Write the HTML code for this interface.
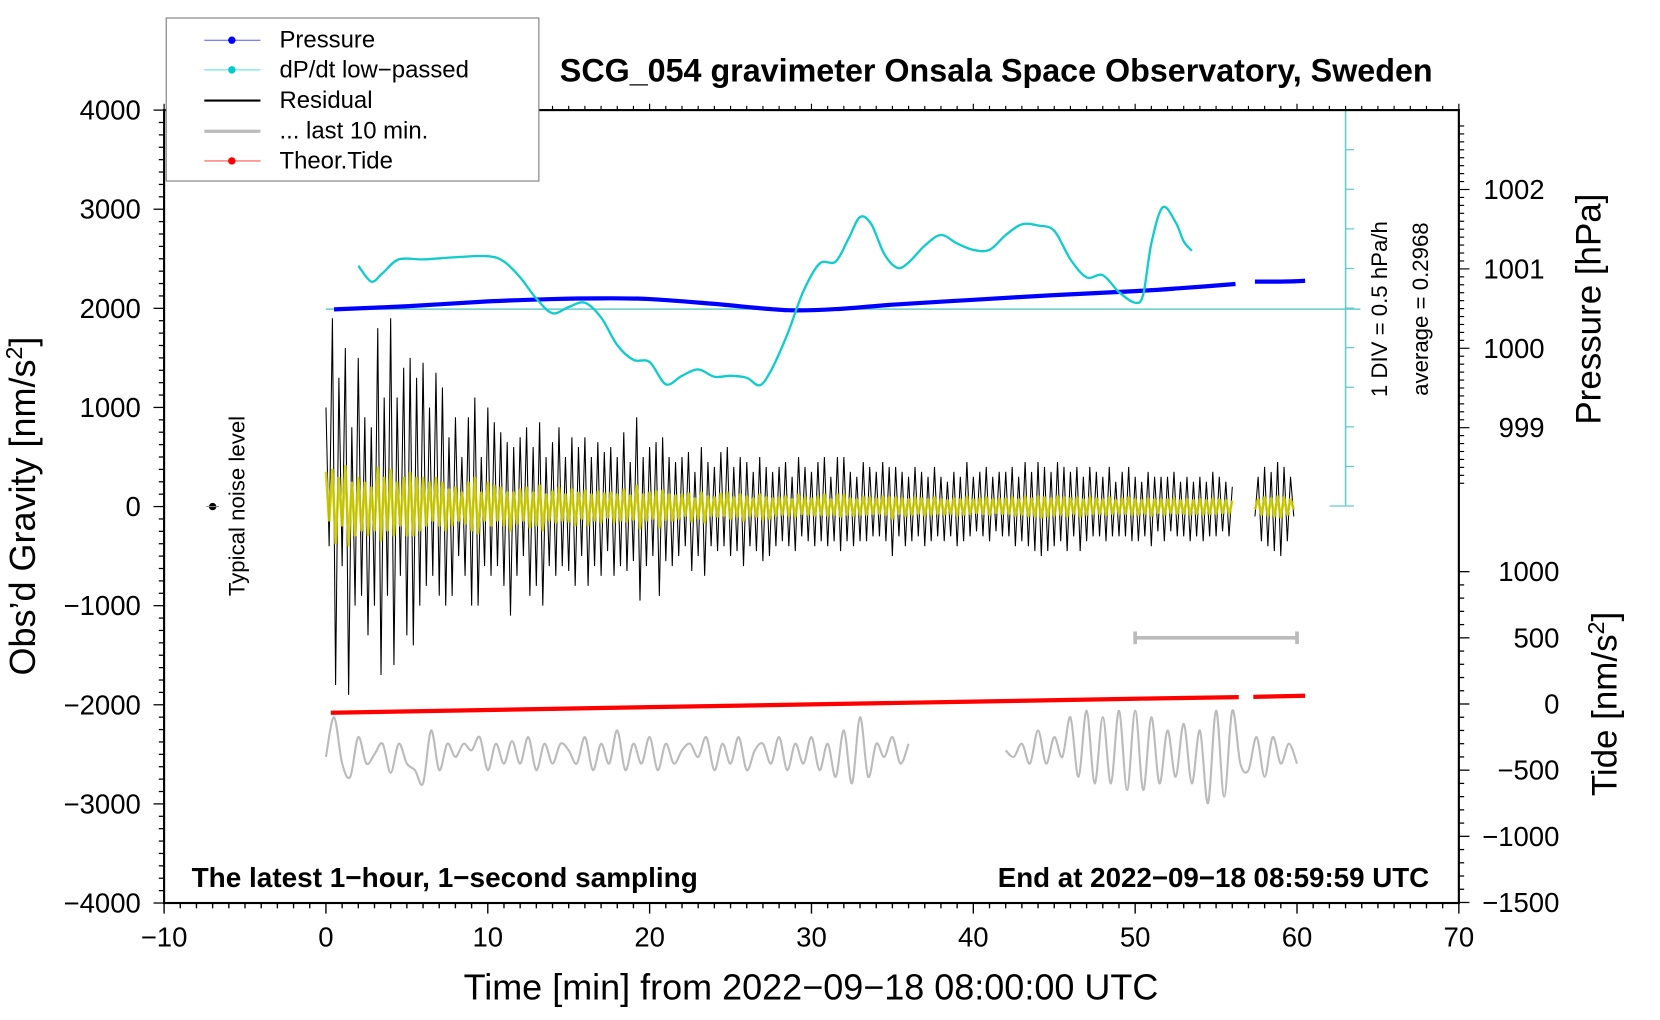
<!DOCTYPE html>
<html><head><meta charset="utf-8"><style>
html,body{margin:0;padding:0;background:#fff;}
svg{display:block;font-family:"Liberation Sans",Arial,sans-serif;}
</style></head><body>
<svg id="chart" width="1660" height="1020" viewBox="0 0 1568 963.5" preserveAspectRatio="none" xmlns="http://www.w3.org/2000/svg">
<rect x="0" y="0" width="1568" height="963.5" fill="#fff"/>
<g id="marks"></g>
<g id="axes"></g>
<text x="941" y="77" font-size="30.5" font-weight="bold" text-anchor="middle">SCG_054 gravimeter Onsala Space Observatory, Sweden</text>
<text x="766" y="944" font-size="34" text-anchor="middle">Time [min] from 2022−09−18 08:00:00 UTC</text>
<text transform="translate(33,478) rotate(-90)" font-size="34" text-anchor="middle">Obs’d Gravity [nm/s<tspan dy="-12" font-size="22">2</tspan><tspan dy="12">]</tspan></text>
<text transform="translate(1512,292) rotate(-90)" font-size="33" text-anchor="middle">Pressure [hPa]</text>
<text transform="translate(1527,665) rotate(-90)" font-size="33" text-anchor="middle">Tide [nm/s<tspan dy="-12" font-size="22">2</tspan><tspan dy="12">]</tspan></text>
<text transform="translate(231,478) rotate(-90)" font-size="21" text-anchor="middle">Typical noise level</text>
<text transform="translate(1310,292) rotate(-90)" font-size="21" text-anchor="middle">1 DIV = 0.5 hPa/h</text>
<text transform="translate(1349,292) rotate(-90)" font-size="21" text-anchor="middle">average = 0.2968</text>
<text x="181" y="838" font-size="26.4" font-weight="bold">The latest 1−hour, 1−second sampling</text>
<text x="1350" y="838" font-size="26.2" font-weight="bold" text-anchor="end">End at 2022−09−18 08:59:59 UTC</text>
<g>
<rect x="157" y="17" width="352" height="154" fill="#fff" stroke="#777" stroke-width="1"/>
<g><line x1="193" y1="38" x2="246" y2="38" stroke="#55f" stroke-width="1"/><circle cx="219" cy="38" r="3.5" fill="#00f"/><text x="264" y="45" font-size="22.6">Pressure</text></g>
<g><line x1="193" y1="66" x2="246" y2="66" stroke="#5dd" stroke-width="1"/><circle cx="219" cy="66" r="3.5" fill="#0cc"/><text x="264" y="73" font-size="22.6">dP/dt low−passed</text></g>
<g><line x1="193" y1="95" x2="246" y2="95" stroke="#000" stroke-width="2"/><text x="264" y="102" font-size="22.6">Residual</text></g>
<g><line x1="193" y1="124" x2="246" y2="124" stroke="#bbb" stroke-width="3"/><text x="264" y="131" font-size="22.6">... last 10 min.</text></g>
<g><line x1="193" y1="152" x2="246" y2="152" stroke="#f55" stroke-width="1"/><circle cx="219" cy="152" r="3.5" fill="#f00"/><text x="264" y="159" font-size="22.6">Theor.Tide</text></g>
</g>
</svg>
<script>
// ---- data ----
const residualStep = 0.2;
const residual = [
1000,-400,1900,-1800,1300,-600,1600,-1900,800,-1000,
1500,-900,900,-1300,800,-1000,1800,-1700,1100,-900,
1900,-1600,1100,-700,1400,-1300,1500,-1400,1300,-1000,
1450,-800,1000,-700,1350,-900,1200,-1000,700,-900,
900,-500,500,-700,900,-1000,1100,-1000,500,-600,
1000,-700,850,-600,750,-800,650,-1100,600,-700,
700,-500,800,-900,600,-800,850,-1000,500,-600,
650,-700,800,-600,500,-650,700,-800,600,-500,
700,-800,500,-600,650,-700,550,-450,600,-700,
500,-600,750,-650,450,-550,900,-950,500,-600,
600,-500,650,-900,700,-550,500,-600,450,-500,
500,-400,550,-650,350,-500,600,-700,450,-400,
400,-450,550,-400,600,-500,400,-450,500,-600,
450,-400,350,-450,500,-550,400,-500,350,-400,
400,-350,450,-400,300,-450,500,-300,400,-350,
350,-400,450,-350,500,-400,300,-350,500,-450,
500,-350,350,-400,300,-350,450,-350,400,-300,
350,-300,450,-350,400,-500,400,-300,350,-400,
300,-350,400,-300,350,-400,300,-350,400,-300,
300,-350,250,-300,350,-400,300,-350,450,-300,
300,-250,350,-300,400,-350,300,-250,350,-300,
350,-300,400,-400,300,-350,450,-400,350,-450,
450,-500,400,-450,350,-400,450,-350,400,-450,
350,-300,400,-450,300,-350,400,-300,350,-300,
300,-350,400,-300,250,-300,350,-300,400,-350,
300,-350,250,-300,350,-400,300,-250,300,-350,
300,-250,350,-300,250,-300,300,-350,250,-300,
300,-350,250,-300,350,-300,300,-250,250,-300,
200,null,null,null,null,null,null,-100,300,-350,
400,-400,350,-450,450,-500,400,-350,300,-100];
const filtered = [
350,-150,380,-380,300,-200,420,-400,250,-300,
300,-250,250,-300,200,-250,400,-350,300,-250,
380,-300,250,-200,300,-300,350,-300,300,-250,
300,-200,250,-150,300,-200,250,-250,180,-200,
200,-150,150,-180,250,-250,300,-280,150,-150,
250,-200,220,-150,200,-200,150,-250,150,-180,
180,-150,200,-220,150,-200,220,-250,130,-150,
160,-170,200,-150,130,-160,180,-200,150,-130,
170,-200,130,-150,160,-170,140,-120,150,-170,
130,-150,180,-160,120,-140,220,-230,130,-150,
150,-130,160,-220,170,-140,130,-150,120,-130,
130,-100,140,-160,90,-130,150,-170,110,-100,
100,-110,140,-100,150,-130,100,-110,130,-150,
110,-100,90,-110,130,-140,100,-130,90,-100,
100,-90,110,-100,80,-110,130,-80,100,-90,
90,-100,110,-90,130,-100,80,-90,130,-110,
130,-90,90,-100,80,-90,110,-90,100,-80,
90,-80,110,-90,100,-130,100,-80,90,-100,
80,-90,100,-80,90,-100,80,-90,100,-80,
80,-90,70,-80,90,-100,80,-90,110,-80,
80,-70,90,-80,100,-90,80,-70,90,-80,
90,-80,100,-100,80,-90,110,-100,90,-110,
110,-120,100,-110,90,-100,110,-90,100,-110,
90,-80,100,-110,80,-90,100,-80,90,-80,
80,-90,100,-80,70,-80,90,-80,100,-90,
80,-90,70,-80,90,-100,80,-70,80,-90,
80,-70,90,-80,70,-80,80,-90,70,-80,
80,-90,70,-80,90,-80,80,-70,70,-80,
60,null,null,null,null,null,null,-30,80,-90,
100,-100,90,-110,110,-120,100,-90,80,-30];
const lastStep = 0.5;
const last10 = [
-400,-100,-450,-550,-250,-450,-380,-300,-520,-300,-450,-500,-600,-200,-500,-300,-400,-300,-350,-250,
-500,-300,-450,-280,-450,-250,-500,-300,-450,-300,-350,-450,-250,-500,-300,-450,-200,-500,-300,-450,
-250,-500,-300,-450,-350,-300,-400,-250,-500,-300,-450,-250,-500,-350,-300,-450,-250,-500,-300,-450,
-250,-500,-300,-550,-200,-600,-100,-550,-300,-400,-250,-450,-300,
null,null,null,null,null,null,null,null,null,null,null,
-350,-400,-300,-450,-200,-450,-250,-400,-100,-550,-50,-600,-100,-600,-50,-650,-50,-650,-100,-600,
-200,-550,-150,-600,-200,-750,-50,-700,-50,-450,-500,-250,-550,-250,-450,-300,-450];
const tideTimes = [0.3, 10, 20, 30, 40, 50, 56.4, 57.3, 60.5];
const tideValues = [-66, -45, -24, -3, 18, 40, 52, 54, 62];
const pressTimes = [0.5, 5, 10, 14, 17, 20, 24, 28.5, 32, 35, 40, 45, 50, 53, 56.2, 57.4, 59, 60.5];
const pressValues = [1000.49, 1000.53, 1000.59, 1000.62, 1000.63, 1000.62, 1000.56, 1000.48, 1000.50, 1000.55, 1000.61, 1000.67, 1000.72, 1000.76, 1000.81, 1000.84, 1000.84, 1000.85];
const dpTimes = [2.0,2.8,3.5,4.5,6,8,10,11,12,13,14,15,16,17,18,19,20,21,22,23,24,25,26,26.8,27.5,28.5,29.5,30.5,31.5,32.3,33,33.7,34.5,35.3,36,37,38,39,40,41,42,43,44,45,46,47,48,49,50,50.5,51,51.7,52.5,53,53.5];
const dpValues = [0.845,0.645,0.752,0.925,0.925,0.952,0.965,0.898,0.698,0.431,0.244,0.324,0.377,0.190,-0.157,-0.344,-0.371,-0.652,-0.545,-0.465,-0.558,-0.545,-0.571,-0.665,-0.478,-0.024,0.524,0.872,0.899,1.193,1.460,1.367,0.992,0.818,0.885,1.099,1.233,1.126,1.046,1.046,1.233,1.367,1.353,1.286,0.925,0.698,0.725,0.511,0.377,0.484,1.126,1.581,1.393,1.153,1.033];
const xTicks = [-10,0,10,20,30,40,50,60,70];
const yTicks = [4000,3000,2000,1000,0,-1000,-2000,-3000,-4000];
const pTicks = [1002,1001,1000,999];
const tideTicks = [1000,500,0,-500,-1000,-1500];

// ---- scales ----
const X0=155, X1=1378, Y0=104, Y1=853;
const xs = t => X0 + (t+10)/80*(X1-X0);
const ys = v => Y1 - (v+4000)/8000*(Y1-Y0);
const ps = p => 329 - (p-1000)*75;
const ts = v => 665 - v*0.125;
const dps = v => 292 - (v-0.2968)*74.8;

const NS='http://www.w3.org/2000/svg';
const marks=document.getElementById('marks'), axes=document.getElementById('axes');
function mk(tag, attrs, parent){const e=document.createElementNS(NS,tag);for(const k in attrs)e.setAttribute(k,attrs[k]);(parent||marks).appendChild(e);return e;}
function pathFrom(arr, step, yf){let d='',pen=false;arr.forEach((v,i)=>{if(v===null){pen=false;return;}d+=(pen?'L':'M')+xs(i*step).toFixed(1)+' '+yf(v).toFixed(1);pen=true;});return d;}
function smoothPath(ts_, vs, yf){const pts=ts_.map((t,i)=>[xs(t),yf(vs[i])]);let d='M'+pts[0][0]+' '+pts[0][1];for(let i=0;i<pts.length-1;i++){const p0=pts[Math.max(0,i-1)],p1=pts[i],p2=pts[i+1],p3=pts[Math.min(pts.length-1,i+2)];const c1=[p1[0]+(p2[0]-p0[0])/6,p1[1]+(p2[1]-p0[1])/6],c2=[p2[0]-(p3[0]-p1[0])/6,p2[1]-(p3[1]-p1[1])/6];d+='C'+c1.map(n=>n.toFixed(1)).join(' ')+' '+c2.map(n=>n.toFixed(1)).join(' ')+' '+p2[0].toFixed(1)+' '+p2[1].toFixed(1);}return d;}
function smoothArr(arr, step, yf){let segs=[],cur=null;arr.forEach((v,i)=>{if(v===null){cur=null;return;}if(!cur){cur={t:[],v:[]};segs.push(cur);}cur.t.push(i*step);cur.v.push(v);});return segs.map(s=>smoothPath(s.t,s.v,yf)).join(' ');}

let e;
e=mk('line',{x1:xs(0),y1:292,x2:1285,y2:292,stroke:'#6cc',"stroke-width":1.5});


e=mk('line',{x1:1271,y1:Y0,x2:1271,y2:478,stroke:'#6cc',"stroke-width":1.5});


for(let i=0;i<=10;i++){const y=Y0+i*37.4;const t=mk('line',{x1:i===10?1256:1271,y1:y,x2:1279,y2:y,stroke:'#6cc',"stroke-width":1.2});

}

e=mk('path',{d:pathFrom(residual,residualStep,ys),fill:'none',stroke:'#000',"stroke-width":1});


e=mk('path',{d:pathFrom(filtered,residualStep,ys),fill:'none',stroke:'#cc0',"stroke-width":2.5,opacity:0.9});



e=mk('path',{d:smoothPath(pressTimes.slice(0,15),pressValues.slice(0,15),ps),fill:'none',stroke:'#00f',"stroke-width":4});


e=mk('path',{d:smoothPath(pressTimes.slice(15),pressValues.slice(15),ps),fill:'none',stroke:'#00f',"stroke-width":4});



e=mk('path',{d:smoothPath(dpTimes,dpValues,dps),fill:'none',stroke:'#1cc',"stroke-width":2.2});



e=mk('path',{d:'M'+xs(tideTimes[0])+' '+ts(tideValues[0])+tideTimes.slice(1,7).map((t,i)=>'L'+xs(t)+' '+ts(tideValues[i+1])).join('')+'M'+xs(tideTimes[7])+' '+ts(tideValues[7])+'L'+xs(tideTimes[8])+' '+ts(tideValues[8]),fill:'none',stroke:'#f00',"stroke-width":4});



e=mk('path',{d:smoothArr(last10,lastStep,ts),fill:'none',stroke:'#bbb',"stroke-width":2});


e=mk('path',{d:`M${xs(50)} ${ts(500)}L${xs(60)} ${ts(500)}M${xs(50)} ${ts(500)-6}V${ts(500)+6}M${xs(60)} ${ts(500)-6}V${ts(500)+6}`,fill:'none',stroke:'#bbb',"stroke-width":3.5});



e=mk('circle',{cx:xs(-7),cy:ys(0),r:3.5,fill:'#000'});


mk('line',{x1:xs(-7)-6,y1:ys(0),x2:xs(-7)+6,y2:ys(0),stroke:'#888',"stroke-width":1});

e=mk('rect',{x:X0,y:Y0,width:X1-X0,height:Y1-Y0,fill:'none',stroke:'#000',"stroke-width":2},axes);


for(let t=-10;t<=70;t++){const maj=t%10===0;mk('line',{x1:xs(t),y1:Y1,x2:xs(t),y2:Y1+(maj?10:5),stroke:'#000',"stroke-width":1.3},axes);mk('line',{x1:xs(t),y1:Y0,x2:xs(t),y2:Y0-(maj?6:4),stroke:'#000',"stroke-width":1.1},axes);}
xTicks.forEach(t=>{const l=mk('text',{x:xs(t),y:Y1+41,"font-size":26,"text-anchor":"middle"},axes);l.textContent=String(t).replace('-','−');

});
for(let v=-4000;v<=4000;v+=125){const maj=v%1000===0;mk('line',{x1:X0,y1:ys(v),x2:X0-(maj?10:5),y2:ys(v),stroke:'#000',"stroke-width":1.2},axes);}
yTicks.forEach(v=>{const l=mk('text',{x:X0-22,y:ys(v)+9,"font-size":26,"text-anchor":"end"},axes);l.textContent=String(v).replace('-','−');

});
for(let p=998.3;p<=1002.9;p+=0.1){const y=ps(p);if(y<Y0||y>480)continue;const maj=Math.abs(p-Math.round(p))<0.01;mk('line',{x1:X1,y1:y,x2:X1+(maj?10:5),y2:y,stroke:'#000',"stroke-width":1.1},axes);}
pTicks.forEach(p=>{const l=mk('text',{x:X1+81,y:ps(p)+9,"font-size":26,"text-anchor":"end"},axes);l.textContent=String(p);

});
for(let v=-1500;v<=1000;v+=100){const maj=v%500===0;mk('line',{x1:X1,y1:ts(v),x2:X1+(maj?10:5),y2:ts(v),stroke:'#000',"stroke-width":1.2},axes);}
tideTicks.forEach(v=>{const l=mk('text',{x:X1+95,y:ts(v)+9,"font-size":26,"text-anchor":"end"},axes);l.textContent=String(v).replace('-','−');

});
</script>
</body></html>
